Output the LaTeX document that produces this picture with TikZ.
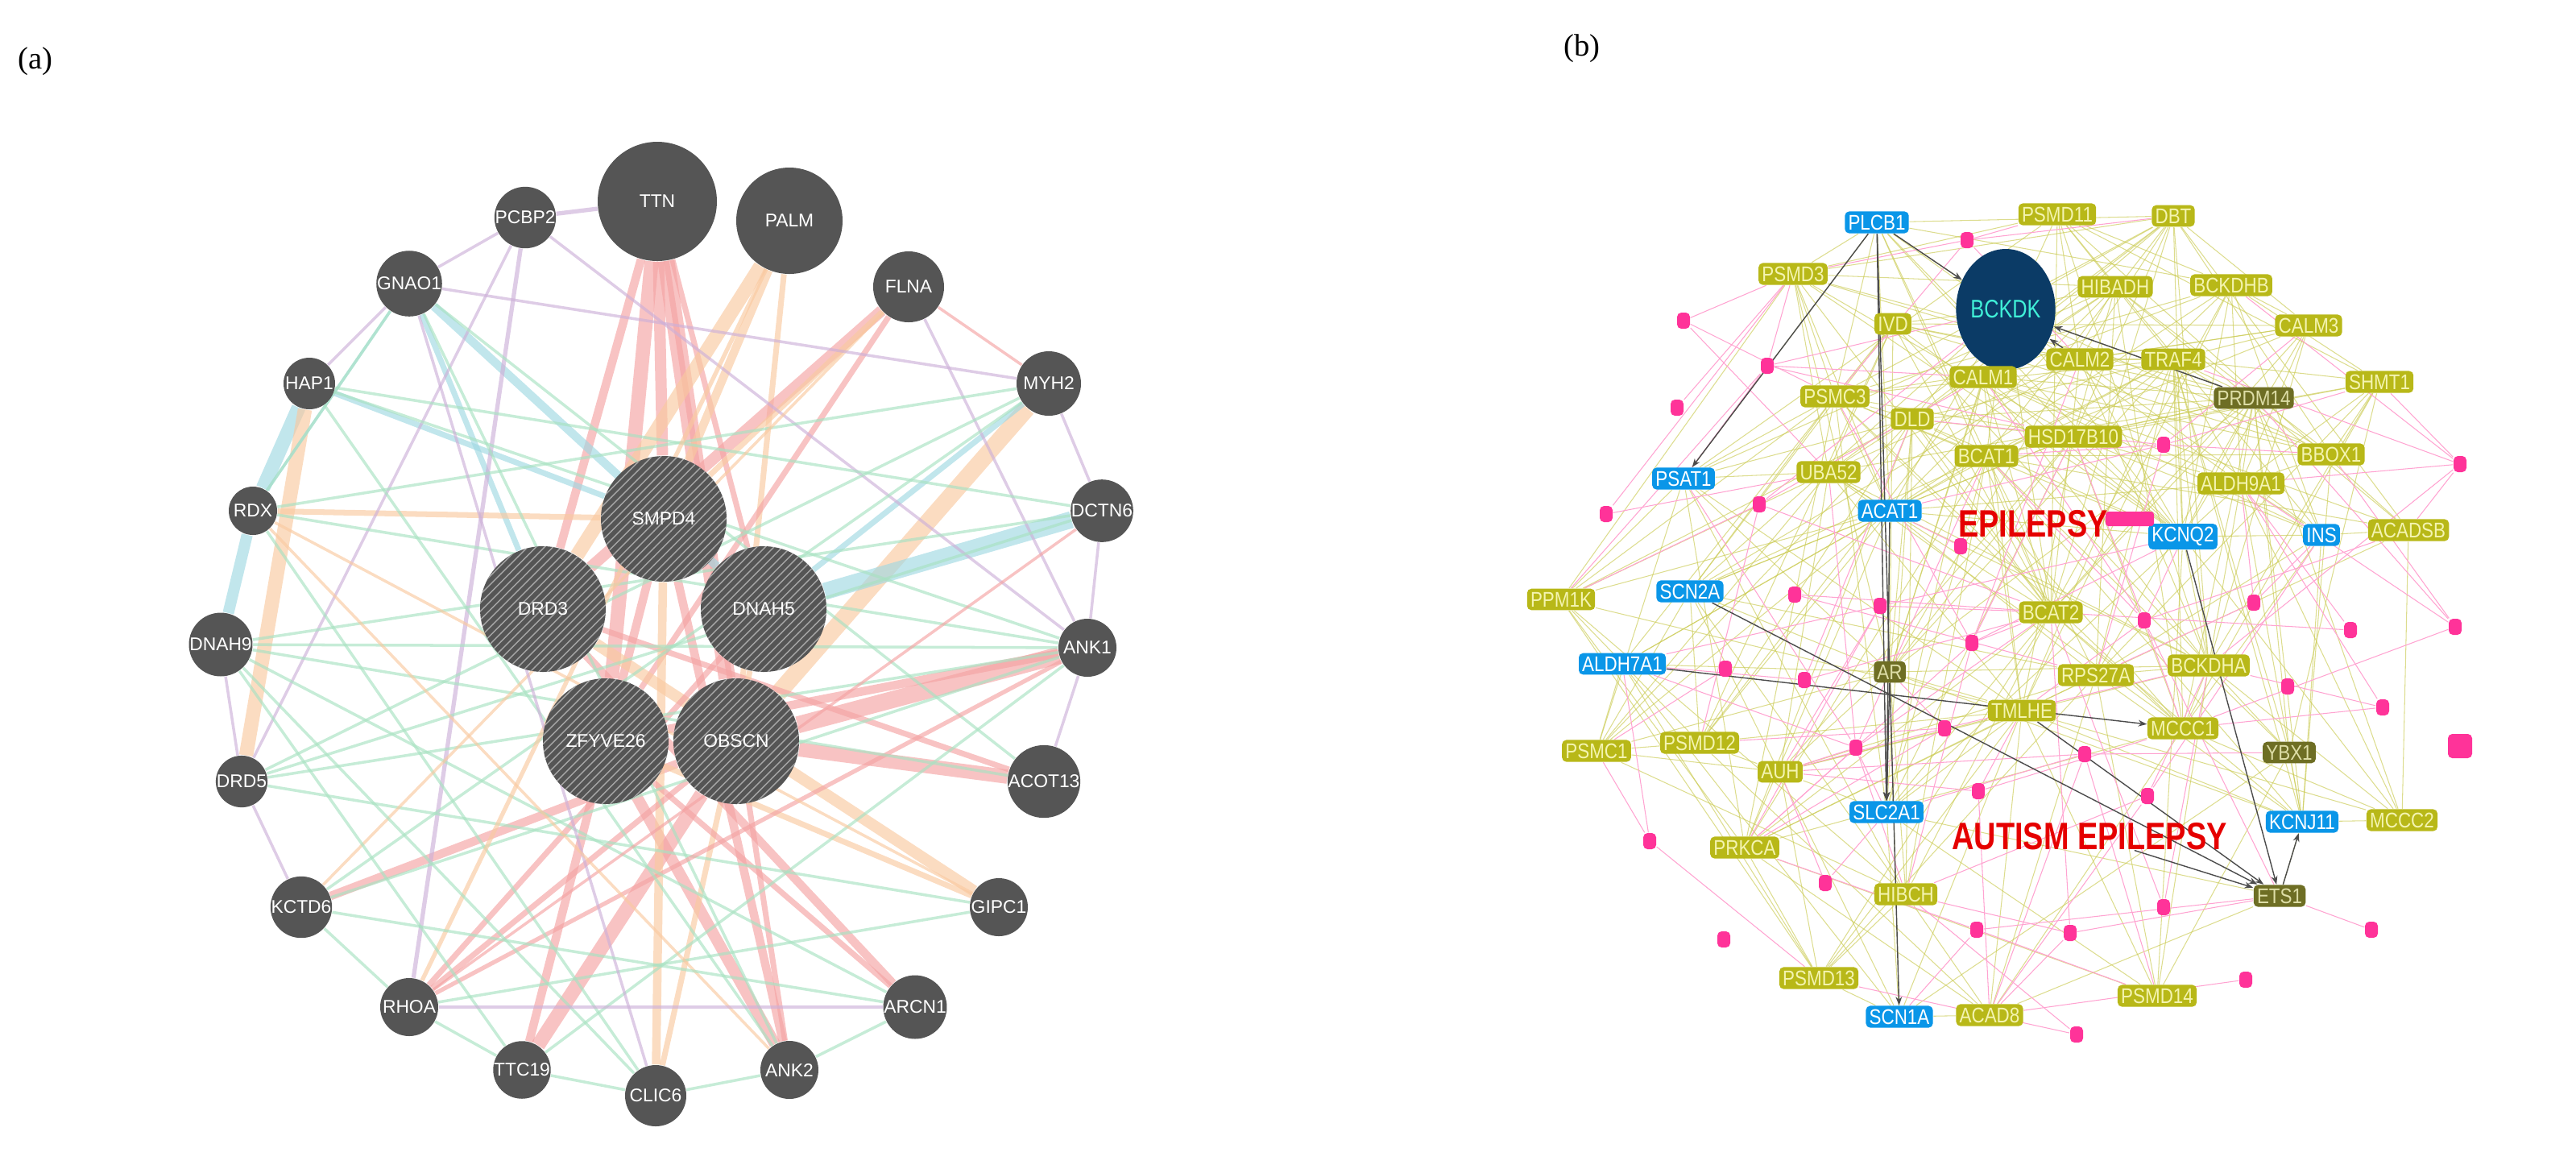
\documentclass[tikz,border=0pt]{standalone}
\usepackage{fontspec}
\setsansfont{Liberation Sans}
\setmainfont{Liberation Serif}
\usetikzlibrary{patterns,backgrounds,arrows.meta,shapes.geometric}
\definecolor{gnode}{HTML}{555555}
\definecolor{epk}{HTML}{F4A3A3}
\definecolor{eor}{HTML}{F9C9A0}
\definecolor{ebl}{HTML}{A0D8E2}
\definecolor{egr}{HTML}{A8E2C2}
\definecolor{epu}{HTML}{CDB0D8}
\definecolor{olv}{HTML}{B8B818}
\definecolor{olvt}{HTML}{F4F4B0}
\definecolor{blu}{HTML}{0A96E8}
\definecolor{dol}{HTML}{6E6E24}
\definecolor{pnk}{HTML}{FF3399}
\definecolor{bck}{HTML}{0B3B66}
\definecolor{bckt}{HTML}{40F0D8}
\tikzset{
 gn/.style={circle,fill=gnode,text=white,inner sep=0pt,font=\sffamily\fontsize{6.5}{7}\selectfont},
 g/.style={fill=olv,text=olvt,rounded corners=1.5pt,inner sep=1.2pt,font=\sffamily\fontsize{7.5}{8}\selectfont\addfontfeature{FakeStretch=0.85}},
 b/.style={g,fill=blu,text=white},
 d/.style={g,fill=dol,text=olvt!80!gray},
 pk/.style={fill=pnk,rounded corners=1.5pt,minimum width=0.16cm,minimum height=0.2cm,inner sep=0pt},
 lab/.style={font=\rmfamily\fontsize{11}{12}\selectfont}
}
\begin{document}
\begin{tikzpicture}[x=0.02cm,y=-0.02cm]
\useasboundingbox (0,0) rectangle (1599,725);
\node[lab] (la) at (22,38) {(a)};
\node[lab] (lb) at (982,30) {(b)};
% ---------- panel a nodes
\foreach \n/\x/\y/\r in {TTN/408/125/37,PALM/490/137/33,PCBP2/326/135/14,FLNA/564/178/22,GNAO1/254/176/17,MYH2/651/238/20,HAP1/192/238/16,RDX/157/317/15,DCTN6/684/317/16,DNAH9/137/400/16,ANK1/675/402/18,DRD5/150/485/16,ACOT13/648/485/18,KCTD6/187/563/16,GIPC1/620/563/18,RHOA/254/625/18,ARCN1/568/625/18,TTC19/324/664/15,CLIC6/407/680/19,ANK2/490/664/18}
 {\node[gn,minimum size=2*\r*0.02cm] (\n) at (\x,\y) {\n};}
\foreach \n/\x/\y in {SMPD4/412/322,DRD3/337/378,DNAH5/474/378,ZFYVE26/376/460,OBSCN/457/460}
 {\fill[gnode] (\x,\y) circle (39);
  \fill[pattern=north east lines,pattern color=gray!70] (\x,\y) circle (39);
  \node[gn,fill=none,minimum size=1.56cm] (\n) at (\x,\y) {\n};}
\begin{pgfonlayer}{background}
\foreach \u/\v/\c/\w in {
 TTN/OBSCN/epk/6, TTN/ZFYVE26/epk/5, TTN/DRD3/epk/3, TTN/SMPD4/epk/4, TTN/DNAH5/epk/2, TTN/ANK2/epk/2,
 PALM/DRD3/eor/5, PALM/SMPD4/eor/3, PALM/OBSCN/eor/2, FLNA/DRD3/epk/4, FLNA/ZFYVE26/epk/2, FLNA/SMPD4/eor/2,
 MYH2/OBSCN/eor/6, MYH2/DNAH5/ebl/2, DCTN6/DNAH5/ebl/6, HAP1/RDX/ebl/5, HAP1/DRD5/eor/5, HAP1/SMPD4/ebl/2,
 GNAO1/DNAH5/ebl/3, GNAO1/DRD3/ebl/2, GNAO1/RDX/ebl/1, RDX/DNAH9/ebl/4, RDX/SMPD4/eor/2,
 ANK1/OBSCN/epk/6, ANK1/ZFYVE26/epk/3, ACOT13/OBSCN/epk/5, ACOT13/DRD3/epk/2, KCTD6/OBSCN/epk/3,
 TTC19/OBSCN/epk/5, TTC19/SMPD4/epk/3, ANK2/ZFYVE26/epk/4, ANK2/SMPD4/epk/3, CLIC6/SMPD4/eor/3, CLIC6/DNAH5/eor/2,
 ARCN1/DRD3/epk/3, ARCN1/ZFYVE26/epk/2, GIPC1/DRD3/eor/4, GIPC1/ZFYVE26/eor/2, RHOA/DNAH5/epk/2, RHOA/OBSCN/epk/2,
 PCBP2/TTN/epu/1.5, PCBP2/RHOA/epu/1.5, PCBP2/ANK1/epu/1, PCBP2/DRD5/epu/1,
 FLNA/MYH2/epk/1, FLNA/ANK1/epu/1, MYH2/DCTN6/epu/1, DCTN6/ANK1/epu/1, ANK1/ACOT13/epu/1,
 DRD5/KCTD6/epu/1, KCTD6/RHOA/egr/1, RHOA/TTC19/egr/1, TTC19/CLIC6/egr/1, CLIC6/ANK2/egr/1, ANK2/ARCN1/egr/1,
 DNAH9/ANK1/egr/1, DNAH9/DCTN6/egr/1, RDX/ANK1/egr/1, RDX/MYH2/egr/1, HAP1/DCTN6/egr/1, HAP1/ANK1/egr/1,
 DRD5/ANK1/egr/1, DRD5/GIPC1/egr/1, DRD5/DCTN6/egr/1, KCTD6/ANK1/egr/1, GNAO1/ANK2/egr/1, GNAO1/ACOT13/egr/1,
 RHOA/ANK1/epk/1.5, RHOA/GIPC1/egr/1, TTC19/ANK1/egr/1, CLIC6/RDX/egr/1, ANK2/HAP1/egr/1, ARCN1/DNAH9/egr/1,
 GIPC1/RDX/eor/1, ACOT13/DNAH9/egr/1, MYH2/DRD5/egr/1, MYH2/KCTD6/egr/1, FLNA/KCTD6/eor/1, PALM/RHOA/eor/1.5,
 GNAO1/MYH2/epu/1, GNAO1/PCBP2/epu/1, HAP1/GNAO1/epu/1, DNAH9/DRD5/epu/1, RDX/GNAO1/egr/1, DCTN6/RHOA/epk/1,
 CLIC6/GNAO1/epu/1, ANK2/RDX/eor/1, TTC19/DNAH9/egr/1, DNAH9/CLIC6/egr/1, KCTD6/ARCN1/egr/1, RHOA/ARCN1/epu/1}
 {\draw[\c,opacity=0.65,line width=\w pt] (\u) -- (\v);}
\end{pgfonlayer}
% ---------- panel b
\def\genesnb{PLCB1/1165/138/b,PSMD11/1277/133/g,DBT/1349/134/g,PSMD3/1113/170/g,HIBADH/1313/178/g,BCKDHB/1385/177/g,IVD/1175/201/g,CALM3/1433/202/g,CALM2/1291/223/g,TRAF4/1349/223/g,CALM1/1231/234/g,SHMT1/1477/237/g,PRDM14/1399/247/d,PSMC3/1139/246/g,DLD/1187/260/g,HSD17B10/1287/271/g,BCAT1/1233/283/g,BBOX1/1447/282/g,PSAT1/1045/297/b,UBA52/1135/293/g,ALDH9A1/1391/300/g,ACAT1/1173/317/b,KCNQ2/1355/333/b,INS/1441/332/b,ACADSB/1495/329/g,PPM1K/969/372/g,SCN2A/1049/367/b,BCAT2/1273/380/g,ALDH7A1/1007/412/b,AR/1173/417/d,RPS27A/1301/419/g,BCKDHA/1371/413/g,TMLHE/1255/441/g,MCCC1/1355/452/g,PSMC1/991/466/g,PSMD12/1055/461/g,YBX1/1421/467/d,AUH/1105/479/g,SLC2A1/1171/504/b,KCNJ11/1429/510/b,MCCC2/1491/509/g,PRKCA/1083/526/g,HIBCH/1183/555/g,ETS1/1415/556/d,PSMD13/1129/607/g,PSMD14/1339/618/g,SCN1A/1179/631/b,ACAD8/1235/630/g}
\edef\genes{\genesnb,BCKDK/1245/192/g}
\def\pinks{p1/1221/149,p2/1045/199,p3/1097/227,p4/1041/253,p5/1343/276,p6/1527/288,p7/997/319,p8/1092/313,p9/1217/339,p10/1114/369,p11/1167/376,p12/1331/385,p13/1399/374,p14/1459/391,p15/1524/389,p16/1224/399,p17/1071/415,p18/1120/422,p19/1420/426,p20/1479/439,p21/1207/452,p22/1152/464,p23/1294/468,p24/1228/491,p25/1333/494,p26/1024/522,p27/1133/548,p28/1343/563,p29/1227/577,p30/1285/579,p31/1472/577,p32/1070/583,p33/1394/608,p34/1289/642}
\node[ellipse,fill=bck,minimum width=1.12cm,minimum height=1.5cm,inner sep=0pt,text=bckt,font=\sffamily\fontsize{9}{10}\selectfont\addfontfeature{FakeStretch=0.8}] (BCKDK) at (1245,192) {BCKDK};
\foreach \n/\x/\y/\t in \genesnb {\node[\t] (\n) at (\x,\y) {\n};}
\foreach \n/\x/\y in \pinks {\node[pk] (\n) at (\x,\y) {};}
\node[pk,minimum width=0.3cm,minimum height=0.3cm] (p35) at (1527,463) {};
\node[pk,minimum width=0.6cm,minimum height=0.18cm,rounded corners=1pt] (ebar) at (1322,322) {};
\node[text=red!90!black,font=\sffamily\bfseries\fontsize{13.5}{14}\selectfont,inner sep=0pt] (EPI) at (1262,325) {\addfontfeature{FakeStretch=0.8}EPILEPSY};
\node[text=red!90!black,font=\sffamily\bfseries\fontsize{13.5}{14}\selectfont,inner sep=0pt] (AEPI) at (1297,519) {\addfontfeature{FakeStretch=0.8}AUTISM EPILEPSY};
\begin{pgfonlayer}{background}
\pgfmathsetseed{7}
\foreach \a/\xa/\ya/\ta [count=\i] in \genes {
 \foreach \b/\xb/\yb/\tb [count=\j] in \genes {
  \ifnum\j>\i
   \pgfmathparse{(((\xa-\xb)/100)^2+((\ya-\yb)/100)^2<9)&&(rnd<0.45)?1:0}
   \ifnum\pgfmathresult=1 \draw[olv!75!white,opacity=0.65,line width=0.3pt] (\a) -- (\b);\fi
  \fi}}
\foreach \a/\xa/\ya [count=\i] in \pinks {
 \foreach \b/\xb/\yb/\tb in \genes {
   \pgfmathparse{(((\xa-\xb)/100)^2+((\ya-\yb)/100)^2<4)&&(rnd<0.22)?1:0}
   \ifnum\pgfmathresult=1 \draw[pnk!45!white,line width=0.3pt] (\a) -- (\b);\fi}}
\foreach \u/\v in {PLCB1/SLC2A1,PLCB1/PSAT1,PLCB1/BCKDK,ACAT1/SLC2A1,AR/SLC2A1,SCN2A/ETS1,ALDH7A1/MCCC1,KCNQ2/ETS1,ETS1/KCNJ11,PRDM14/BCKDK,CALM1/BCKDK,CALM2/BCKDK,TMLHE/ETS1,PLCB1/SCN1A,AEPI/ETS1}
 {\draw[gray!60!black,line width=0.4pt,-{Stealth[length=3pt]}] (\u) -- (\v);}
\end{pgfonlayer}
\end{tikzpicture}
\end{document}
